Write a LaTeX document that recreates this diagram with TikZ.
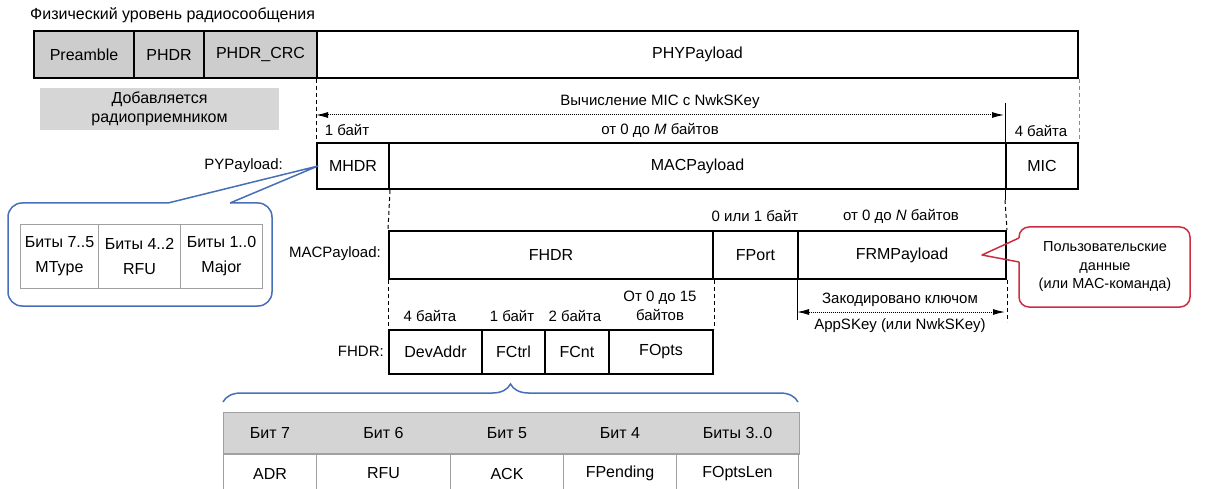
\documentclass[tikz,border=0pt]{standalone}
\usepackage{fontspec}
\setmainfont{Liberation Sans}
\usetikzlibrary{arrows.meta,decorations.pathreplacing}
\definecolor{boxgray}{RGB}{205,205,205}
\definecolor{notegray}{RGB}{214,214,214}
\definecolor{tabgray}{RGB}{212,212,212}
\definecolor{tabline}{RGB}{160,160,160}
\definecolor{callblue}{RGB}{70,110,185}
\definecolor{callred}{RGB}{205,45,65}
\newcommand\fmain{\fontsize{16}{19}\selectfont}
\newcommand\fsmall{\fontsize{15}{19}\selectfont}
\tikzset{
  field/.style={draw, line width=2pt, anchor=north west, inner sep=0pt,
    minimum height=#1, font=\fmain},
  cell/.style={draw=tabline, line width=1pt, anchor=north west, inner sep=0pt,
    font=\fmain, align=center},
  lbl/.style={font=\fsmall, inner sep=1pt, align=center},
  dashline/.style={dash pattern=on 4pt off 3pt, line width=1pt},
  dotarrow/.style={densely dotted, line width=1pt,
    {Latex[length=12pt,width=6pt]}-{Latex[length=12pt,width=6pt]}},
  bluecall/.style={draw=callblue, line width=1.5pt},
  redcall/.style={draw=callred, line width=1.5pt},
}
\begin{document}
\begin{tikzpicture}[x=1pt,y=-1pt]
  \useasboundingbox (0,0) rectangle (1205,489);
  \node[anchor=west, font=\fmain, inner sep=0pt] (title) at (30,15)
    {Физический уровень радиосообщения};

  % physical frame
  \foreach \n/\x/\w/\t in {pre/33/100/Preamble, phdr/133/70/PHDR, crc/203/113/PHDR\_CRC}
    \node[field=47, fill=boxgray, minimum width=\w] (\n) at (\x,30) {\t};
  \node[field=47, minimum width=761] (phy) at (316,30) {PHYPayload};
  \node[fill=notegray, minimum width=239, minimum height=42, inner sep=0pt,
    align=center, font=\fmain] (added) at (159.5,109) {Добавляется\\радиоприемником};

  % PHYPayload
  \node[field=46, minimum width=72] (mhdr) at (316,142) {MHDR};
  \node[field=46, minimum width=617] (macp) at (388,142) {MACPayload};
  \node[field=46, minimum width=72] (mic) at (1005,142) {MIC};
  \node[lbl, anchor=east] (lphy) at (284,166) {PYPayload:};
  \draw[dashline] (phy.south west) -- (mhdr.north west);
  \draw[dashline, black!45] (phy.south east) -- (mic.north east);
  \node[lbl] (lmic) at (660,102) {Вычисление MIC с NwkSKey};
  \coordinate (mica) at (316,115);
  \coordinate (micb) at (1004,115);
  \draw[dotarrow] (mica) -- (micb);
  \coordinate (mict) at (1005,103);
  \draw[line width=1pt] (mict) -- (mic.north west);
  \node[lbl] (s1) at (347,130) {1 байт};
  \node[lbl] (sm) at (660,130) {от 0 до {\itshape M} байтов};
  \node[lbl] (s4) at (1041,131) {4 байта};

  % MHDR callout
  \coordinate (mtip) at ([xshift=2pt]mhdr.west);
  \draw[bluecall, rounded corners=14] (168,203) -- (8,203) -- (8,306)
    -- (272,306) -- (272,203) -- (230,203);
  \draw[bluecall, line join=round] (168,203) -- (mtip) -- (230,203);
  \foreach \n/\x/\w/\t in {mtype/20/78/{Биты 7..5\\MType}, rfu/98/82/{Биты 4..2\\RFU},
      major/180/82/{Биты 1..0\\Major}}
    \node[cell, minimum width=\w, minimum height=64,
      font=\fontsize{16}{25}\selectfont] (\n) at (\x,224) {\t};

  % MACPayload
  \node[field=48, minimum width=324] (fhdr) at (388,230) {FHDR};
  \node[field=48, minimum width=85] (fport) at (712,230) {FPort};
  \node[field=48, minimum width=208] (frm) at (797,230) {FRMPayload};
  \node[lbl, anchor=east] (lmac) at (382,254) {MACPayload:};
  \draw[dashline] (mhdr.south east) -- (fhdr.north west);
  \draw[line width=1pt] (mic.south west) -- ++(0,10) coordinate (micd);
  \draw[dashline] (micd) -- (frm.north east);
  \node[lbl] (s01) at (755,216) {0 или 1 байт};
  \node[lbl] (sn) at (901,216) {от 0 до {\itshape N} байтов};

  % FRMPayload callout
  \coordinate (ftip) at ([xshift=-25pt]frm.east);
  \draw[redcall, rounded corners=10] (1019,238) -- (1019,227) -- (1190,227)
    -- (1190,307) -- (1019,307) -- (1019,262);
  \draw[redcall, line join=round] (1019,238) -- (ftip) -- (1019,262);
  \node[font=\fontsize{14.5}{18.5}\selectfont, align=center] (user) at (1105,267)
    {Пользовательские\\данные\\(или MAC-команда)};

  % encryption
  \draw[line width=1pt] (frm.south west) -- ++(0,40) coordinate (encl0);
  \draw[dashline] (frm.south east) -- ++(0,42);
  \coordinate (encl) at (797,312);
  \coordinate (encr) at (1005,312);
  \draw[dotarrow] (encl) -- (encr);
  \node[lbl] (enc1) at (900,300) {Закодировано ключом};
  \node[lbl] (enc2) at (900,326) {AppSKey (или NwkSKey)};

  % FHDR
  \node[field=44, minimum width=93] (devaddr) at (388,329) {DevAddr};
  \node[field=44, minimum width=63] (fctrl) at (481,329) {FCtrl};
  \node[field=44, minimum width=64] (fcnt) at (544,329) {FCnt};
  \node[field=44, minimum width=104] (fopts) at (608,329) {FOpts};
  \node[lbl, anchor=east] (lfhdr) at (385,351) {FHDR:};
  \draw[dashline] (fhdr.south west) -- (devaddr.north west);
  \draw[dashline] (fhdr.south east) -- (fopts.north east);
  \node[lbl] (d4) at (430,316) {4 байта};
  \node[lbl] (d1) at (512,316) {1 байт};
  \node[lbl] (d2) at (575,316) {2 байта};
  \node[lbl] (d15) at (660,306) {От 0 до 15\\байтов};

  % FCtrl bits
  \coordinate (brl) at (223,402);
  \coordinate (brr) at (798,402);
  \draw[bluecall, decorate, decoration={brace, amplitude=18pt}] (brl) -- (brr);
  \foreach \n/\x/\w/\h/\v in {b7/223/93/Бит 7/ADR, b6/316/134/Бит 6/RFU,
      b5/450/113/Бит 5/ACK, b4/563/113/Бит 4/FPending, b30/676/122/Биты 3..0/FOptsLen} {
    \node[cell, draw=none, fill=tabgray, minimum width=\w, minimum height=41] (h\n) at (\x,412) {\h};
    \node[cell, minimum width=\w, minimum height=40] (v\n) at (\x,453) {\v};
  }
  \draw[draw=tabline, line width=1pt] (hb7.north west) rectangle (hb30.south east);
\end{tikzpicture}
\end{document}
